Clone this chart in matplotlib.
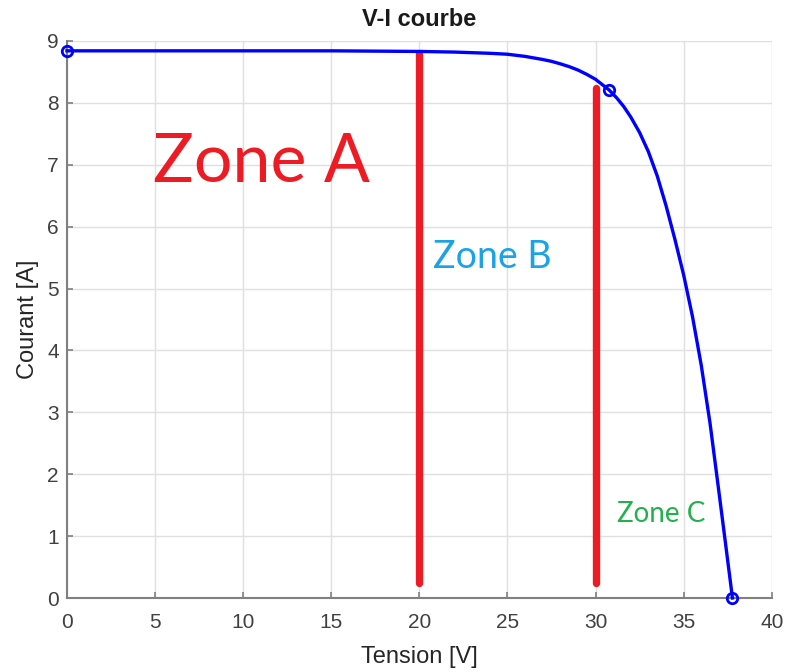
import matplotlib
matplotlib.use("Agg")
import matplotlib.pyplot as plt

# I-V characteristic of the PV module
tension = [0.0, 5.0, 10.0, 15.0, 20.0, 22.0, 24.0, 25.0, 26.0, 27.0, 27.5, 28.0,
           28.5, 29.0, 29.5, 30.0, 30.4, 30.76, 31.2, 31.6, 32.0, 32.5, 33.0,
           33.5, 34.0, 34.5, 35.0, 35.5, 36.0, 36.5, 37.0, 37.4, 37.77]
courant = [8.84, 8.84, 8.84, 8.84, 8.83, 8.82, 8.80, 8.785, 8.75, 8.70, 8.67, 8.63,
           8.585, 8.53, 8.46, 8.38, 8.29, 8.21, 8.08, 7.94, 7.77, 7.52, 7.21,
           6.82, 6.34, 5.80, 5.22, 4.55, 3.76, 2.82, 1.72, 0.83, 0.0]
# key points: short-circuit, maximum power, open-circuit
points_cles = [0, 17, 32]

# zone boundaries (voltage, bottom, top)
limites_v = [20.0, 30.0]
limites_bas = [0.25, 0.25]
limites_haut = [8.80, 8.24]

zones = ["Zone A", "Zone B", "Zone C"]
zones_pos = [(4.9, 6.72), (20.8, 5.33), (31.2, 1.23)]
zones_taille = [49, 27, 20]
zones_couleur = ["#ED1C24", "#1BA3E6", "#22B14C"]

x_ticks = [0, 5, 10, 15, 20, 25, 30, 35, 40]
y_ticks = [0, 1, 2, 3, 4, 5, 6, 7, 8, 9]

fig = plt.figure(figsize=(7.87, 6.72), dpi=100)
ax = fig.add_axes([0.0851, 0.1101, 0.8955, 0.829])

axis_gray = "#808080"
label_col = "#262626"

for v, b, h in zip(limites_v, limites_bas, limites_haut):
    ax.plot([v, v], [b, h], color="#ED1C24", lw=5.3,
            solid_capstyle="round", zorder=2)

ax.plot(tension, courant, color="#0000FF", lw=2.4, zorder=3,
        solid_joinstyle="round",
        marker="o", markevery=points_cles, markersize=7.5,
        markerfacecolor="none", markeredgecolor="#0000FF", markeredgewidth=2,
        clip_on=False)

for txt, (x, y), s, c in zip(zones, zones_pos, zones_taille, zones_couleur):
    ax.text(x, y, txt, color=c, fontsize=s, family=["Lato", "DejaVu Sans"],
            ha="left", va="baseline", zorder=4)

ax.set_xlim(0, 40)
ax.set_ylim(0, 9)
ax.set_xticks(x_ticks)
ax.set_yticks(y_ticks)
ax.grid(True, color="#E0E0E0", lw=1.0)
ax.set_axisbelow(True)

for side in ["top", "right"]:
    ax.spines[side].set_visible(False)
for side in ["left", "bottom"]:
    ax.spines[side].set_color(axis_gray)
    ax.spines[side].set_linewidth(1.5)

ax.tick_params(direction="in", length=4, width=1.2, color=axis_gray,
               labelcolor="#404040", labelsize=15)
ax.tick_params(axis="x", pad=11)
ax.tick_params(axis="y", pad=6)
for lbl in ax.get_xticklabels() + ax.get_yticklabels():
    lbl.set_family("Liberation Sans")

ax.set_xlabel("Tension [V]", fontsize=17, family="Liberation Sans",
              color=label_col, labelpad=10)
ax.set_ylabel("Courant [A]", fontsize=17, family="Liberation Sans",
              color=label_col, labelpad=6)
ax.set_title("V-I courbe", fontsize=17, family="Liberation Sans",
             fontweight="bold", color="#1a1a1a", pad=11)

fig.savefig("out.png", dpi=100, facecolor="white")
